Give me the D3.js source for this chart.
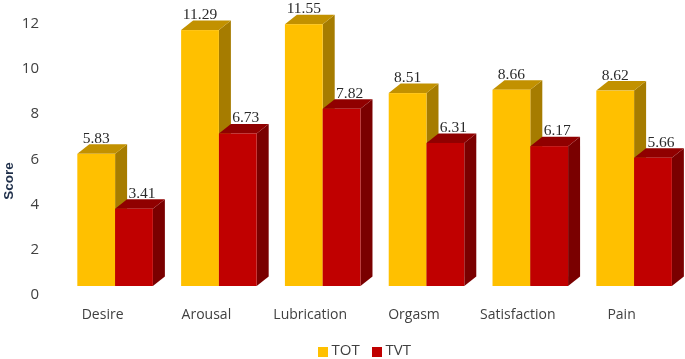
<!DOCTYPE html>
<meta charset="utf-8">
<style>
body { margin: 0; background: #fff; }
svg { display: block; filter: blur(0.45px); }
.axis text, .cat { font-family: "Open Sans", sans-serif; fill: #404040; }
.val { font-family: "Liberation Serif", serif; font-size: 15.5px; fill: #2b2b2b; text-anchor: middle; }
</style>
<svg width="685" height="359"></svg>
<script src="https://d3js.org/d3.v7.min.js"></script>
<script>
var categories = ["Desire", "Arousal", "Lubrication", "Orgasm", "Satisfaction", "Pain"];
var seriesNames = ["TOT", "TVT"];
var tot = [5.83, 11.29, 11.55, 8.51, 8.66, 8.62];
var tvt = [3.41, 6.73, 7.82, 6.31, 6.17, 5.66];
var tickValues = [0, 2, 4, 6, 8, 10, 12];

var colors = {
  TOT: { front: "#FFC000", top: "#C29100", side: "#A67C00" },
  TVT: { front: "#C00000", top: "#900000", side: "#7A0000" }
};

var svg = d3.select("svg");
var dx = 12, dy = 9.5; // 3d depth

var x = d3.scaleBand().domain(categories).range([63.2, 686]).paddingInner(0.272).paddingOuter(0.136);
var xSeries = d3.scaleBand().domain(seriesNames).range([0, x.bandwidth()]);
var y = d3.scaleLinear().domain([0, 12]).range([286, 14]);
// tick labels sit on the floor of the 3d box, a bit lower than the bars
var yAxisScale = d3.scaleLinear().domain([0, 12]).range([293.5, 23]);

var axis = svg.append("g").attr("class", "axis")
  .attr("transform", "translate(39,0)")
  .call(d3.axisLeft(yAxisScale).tickValues(tickValues).tickSize(0).tickPadding(0));
axis.select(".domain").remove();
axis.selectAll("text").style("font-size", "15px");

svg.append("text")
  .attr("transform", "translate(13,181) rotate(-90)")
  .attr("text-anchor", "middle")
  .style("font-family", "'Liberation Sans', sans-serif")
  .style("font-size", "13.5px")
  .style("font-weight", "bold")
  .style("fill", "#1f2f4a")
  .text("Score");

categories.forEach(function(c, i) {
  var g = svg.append("g");
  seriesNames.forEach(function(s) {
    var v = s === "TOT" ? tot[i] : tvt[i];
    var col = colors[s];
    var x0 = x(c) + xSeries(s), x1 = x0 + xSeries.bandwidth();
    var yt = y(v), yb = y(0);

    g.append("polygon") // side
      .attr("points", [[x1, yt], [x1 + dx, yt - dy], [x1 + dx, yb - dy], [x1, yb]].join(" "))
      .attr("fill", col.side);
    g.append("polygon") // top
      .attr("points", [[x0, yt], [x0 + dx, yt - dy], [x1 + dx, yt - dy], [x1, yt]].join(" "))
      .attr("fill", col.top);
    g.append("rect")
      .attr("x", x0).attr("y", yt)
      .attr("width", x1 - x0).attr("height", yb - yt)
      .attr("fill", col.front);
  });
  seriesNames.forEach(function(s) {
    var v = s === "TOT" ? tot[i] : tvt[i];
    var off = s === "TOT" ? 0 : 8;
    svg.append("text").attr("class", "val")
      .attr("x", x(c) + xSeries(s) + xSeries.bandwidth() / 2 + off)
      .attr("y", y(v) - dy - 1.5)
      .text(v.toFixed(2));
  });
  svg.append("text").attr("class", "cat")
    .attr("x", x(c) + x.bandwidth() / 2 - 12.5)
    .attr("y", 319)
    .attr("text-anchor", "middle")
    .style("font-size", "14px")
    .text(c);
});

// legend
var legendX = d3.scaleOrdinal().domain(seriesNames).range([318, 372]);
seriesNames.forEach(function(s) {
  svg.append("rect")
    .attr("x", legendX(s)).attr("y", 347)
    .attr("width", 10).attr("height", 10)
    .attr("fill", colors[s].front);
  svg.append("text").attr("class", "cat")
    .attr("x", legendX(s) + 13.5).attr("y", 354.5)
    .style("font-size", "15px")
    .text(s);
});
</script>
